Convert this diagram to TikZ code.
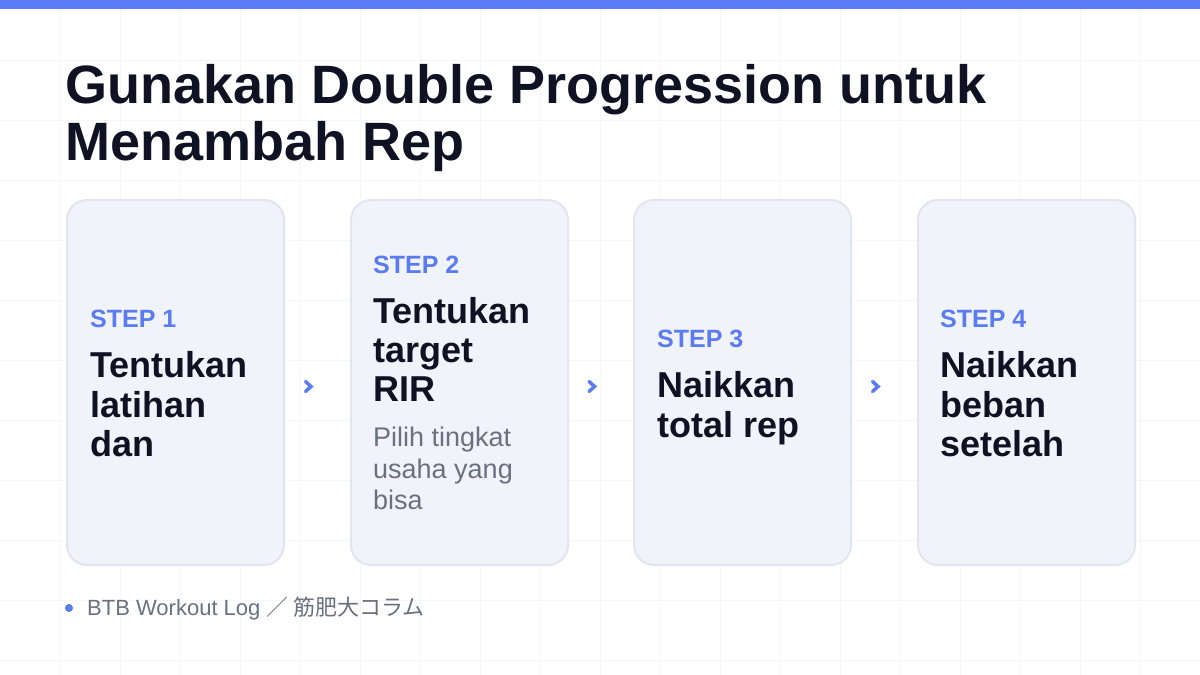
\documentclass[tikz,border=0pt]{standalone}
\usepackage{fontspec}
\setmainfont{Liberation Sans}
\newfontfamily\cjkfont{Noto Sans CJK JP}
\usetikzlibrary{calc}
\definecolor{topbar}{HTML}{5B7CF5}
\definecolor{titlecol}{HTML}{0F1222}
\definecolor{stepblue}{HTML}{5B7CF0}
\definecolor{subgray}{HTML}{6B7080}
\definecolor{cardfill}{HTML}{F1F3FB}
\definecolor{cardline}{HTML}{E2E5F0}
\definecolor{gridcol}{HTML}{F5F6F8}
\begin{document}
\begin{tikzpicture}[x=1pt,y=-1pt,
  card/.style={draw=cardline,line width=2pt,fill=cardfill,rounded corners=20pt,minimum width=217pt,minimum height=365pt,anchor=north west,inner sep=0pt},
  steplabel/.style={anchor=base west,inner sep=0pt,text=stepblue,font=\fontsize{25}{28}\selectfont\bfseries},
  mainline/.style={anchor=base west,inner sep=0pt,text=titlecol,font=\fontsize{36}{40}\selectfont\bfseries},
  subline/.style={anchor=base west,inner sep=0pt,text=subgray,font=\fontsize{27}{32}\selectfont},
  chev/.style={draw=stepblue,line width=3.5pt,line cap=round,line join=miter}]
\useasboundingbox (0,0) rectangle (1200,675);
\fill[white] (0,0) rectangle (1200,675);
% grid
\foreach \i in {1,...,19} \draw[gridcol,line width=0.7pt] (\i*60,0) -- (\i*60,675);
\foreach \j in {1,...,11} \draw[gridcol,line width=0.7pt] (0,\j*60) -- (1200,\j*60);
\fill[topbar] (0,0) rectangle (1200,9);
% title
\node[anchor=base west,inner sep=0pt,text=titlecol,font=\fontsize{54}{57}\selectfont\bfseries] (t1) at (65,103) {Gunakan Double Progression untuk};
\node[anchor=base west,inner sep=0pt,text=titlecol,font=\fontsize{54}{57}\selectfont\bfseries] (t2) at (65,160) {Menambah Rep};
% cards
\node[card] (c1) at (66,199) {};
\node[card] (c2) at (350,199) {};
\node[card] (c3) at (633,199) {};
\node[card] (c4) at (917,199) {};
% card 1
\node[steplabel] (s1) at (90,327) {STEP 1};
\node[mainline] (m1a) at (90,377) {Tentukan};
\node[mainline] (m1b) at (90,417) {latihan};
\node[mainline] (m1c) at (90,456) {dan};
% card 2
\node[steplabel] (s2) at (373,273) {STEP 2};
\node[mainline] (m2a) at (373,323) {Tentukan};
\node[mainline] (m2b) at (373,362) {target};
\node[mainline] (m2c) at (373,401) {RIR};
\node[subline] (p2a) at (373,446) {Pilih tingkat};
\node[subline] (p2b) at (373,478) {usaha yang};
\node[subline] (p2c) at (373,509) {bisa};
% card 3
\node[steplabel] (s3) at (657,347) {STEP 3};
\node[mainline] (m3a) at (657,397) {Naikkan};
\node[mainline] (m3b) at (657,437) {total rep};
% card 4
\node[steplabel] (s4) at (940,327) {STEP 4};
\node[mainline] (m4a) at (940,377) {Naikkan};
\node[mainline] (m4b) at (940,417) {beban};
\node[mainline] (m4c) at (940,456) {setelah};
% chevrons
\foreach \a/\b in {c1/c2,c2/c3,c3/c4}{
  \coordinate (m) at ($(\a.east)!0.5!(\b.west)+(-9,4)$);
  \draw[chev] ($(m)+(-3,-5)$) -- ($(m)+(2.5,0)$) -- ($(m)+(-3,5)$);
}
% footer
\fill[stepblue] (69,608) circle (4pt);
\node[anchor=base west,inner sep=0pt,text=subgray,font=\fontsize{22}{24}\selectfont] (ft) at (87,615) {BTB Workout Log {\cjkfont ／ 筋肥大コラム}};
\end{tikzpicture}
\end{document}
